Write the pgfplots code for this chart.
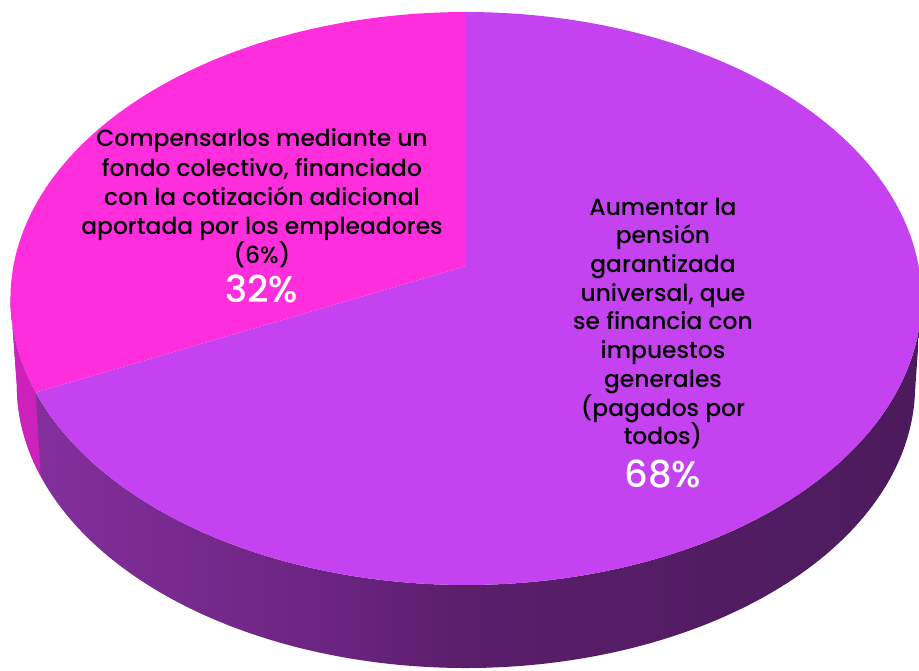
\documentclass[border=0pt]{standalone}
\usepackage{fontspec}
\setmainfont{Poppins}[UprightFont={* Medium}]
\usepackage{pgfplots}
\pgfplotsset{compat=1.18}
\usepackage{pgfplotstable}
\definecolor{pinkslice}{HTML}{FF2EDC}
\definecolor{purpslice}{HTML}{C542F1}
\definecolor{pinkside}{HTML}{CC22BB}
\definecolor{sA}{HTML}{A645CE}
\definecolor{sB}{HTML}{7B2B92}
\definecolor{sC}{HTML}{6A2480}
\definecolor{sD}{HTML}{5A1E6A}
\definecolor{sE}{HTML}{511C62}
\definecolor{sF}{HTML}{4B1B5A}
\definecolor{sG}{HTML}{4A1A58}
\pgfdeclarehorizontalshading{sideshade}{100bp}{color(0bp)=(sA); color(32bp)=(sB); color(43bp)=(sC); color(50bp)=(sD); color(65bp)=(sE); color(78bp)=(sF); color(100bp)=(sG)}

\pgfplotstableread{
label value
Compensarlos 32
Aumentar 68
}\piedata

\begin{document}%
\begin{tikzpicture}
\pgfplotstablegetelem{0}{value}\of\piedata
\pgfmathsetmacro\va{\pgfplotsretval}
\pgfmathsetmacro\tS{90}
\pgfmathsetmacro\tA{90+3.6*\va}
\pgfmathsetmacro\tE{450}
\def\tL{186.5}
\def\tR{353.5}
\begin{axis}[
  name=ax,
  hide axis, scale only axis,
  width=919pt, height=670pt,
  xmin=-466, xmax=453, ymin=-404, ymax=266,
  clip=false,
  declare function={
    px(\t)=452.6*cos(\t)/(1+0.1135*sin(\t));
    py(\t)=282.8*sin(\t)/(1+0.1135*sin(\t));
  },
]
% side wall (whole visible front)
\addplot[draw=none, shade, shading=sideshade,
  domain=0:2, samples=301, variable=\s]
  ({ (\s<=1) ? px(\tL+(\tR-\tL)*\s) : 0.986*px(\tR-(\tR-\tL)*(\s-1)) },
   { (\s<=1) ? py(\tL+(\tR-\tL)*\s) : 0.986*py(\tR-(\tR-\tL)*(\s-1))-87.5 });
% pink part of side wall
\addplot[draw=none, fill=pinkside,
  domain=0:2, samples=101, variable=\s]
  ({ (\s<=1) ? px(\tL+(\tA-\tL)*\s) : 0.986*px(\tA-(\tA-\tL)*(\s-1)) },
   { (\s<=1) ? py(\tL+(\tA-\tL)*\s) : 0.986*py(\tA-(\tA-\tL)*(\s-1))-87.5 });
% purple wedge (68%)
\addplot[draw=none, fill=purpslice, domain=-0.05:1, samples=421, variable=\s]
  ({ min(1,max(0,(\s+0.05)/0.05))*px(\tA+(\tE-\tA)*max(\s,0)) },
   { min(1,max(0,(\s+0.05)/0.05))*py(\tA+(\tE-\tA)*max(\s,0)) });
% pink wedge (32%)
\addplot[draw=none, fill=pinkslice, domain=-0.05:1, samples=211, variable=\s]
  ({ min(1,max(0,(\s+0.05)/0.05))*px(\tS+(\tA-\tS)*max(\s,0)) },
   { min(1,max(0,(\s+0.05)/0.05))*py(\tS+(\tA-\tS)*max(\s,0)) });
% labels
\node[align=center, font=\fontsize{23.4}{29.3}\selectfont, inner sep=0pt, text=black]
  at (axis cs:-204,67.5) {Compensarlos mediante un\\fondo colectivo, financiado\\con la cotización adicional\\aportada por los empleadores\\(6\%)};
\node[font=\fontsize{37}{40}\selectfont, inner sep=0pt, text=white]
  at (axis cs:-204,-23) {32\%};
\node[align=center, font=\fontsize{23.4}{28.7}\selectfont, inner sep=0pt, text=black]
  at (axis cs:197,-57.5) {Aumentar la\\pensión\\garantizada\\universal, que\\se financia con\\impuestos\\generales\\(pagados por\\todos)};
\node[font=\fontsize{37}{40}\selectfont, inner sep=0pt, text=white]
  at (axis cs:197,-208) {68\%};
\end{axis}
\pgfresetboundingbox
\path[use as bounding box] (ax.south west) rectangle (ax.north east);
\end{tikzpicture}%
\end{document}
